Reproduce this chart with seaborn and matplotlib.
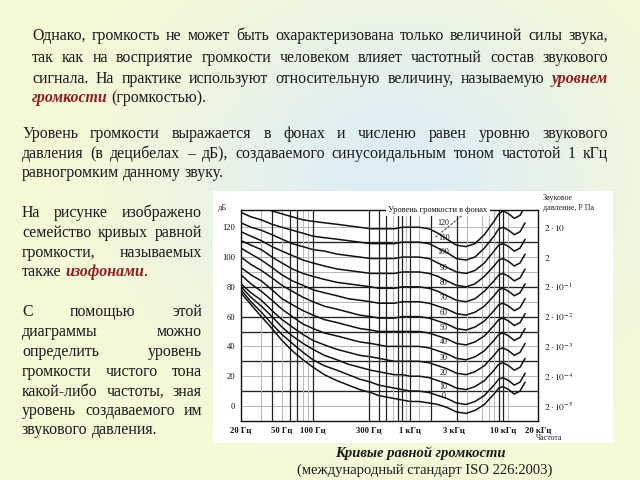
import numpy as np
import pandas as pd
import matplotlib
matplotlib.use("Agg")
import matplotlib.pyplot as plt
import seaborn as sns
from matplotlib.patches import Rectangle
from matplotlib.ticker import NullLocator

sns.set_theme(style="white")
plt.rcParams["font.family"] = ["Liberation Serif", "DejaVu Serif"]
plt.rcParams["mathtext.fontset"] = "stix"

# ---------------- data ----------------
FREQ = [20, 25, 31.5, 40, 50, 63, 80, 100, 125, 160, 200, 250, 315, 400, 500,
        630, 800, 1000, 1250, 1600, 2000, 2500, 3150, 4000, 5000, 6300, 8000,
        9000, 10000, 11200, 12500, 14000, 15500]
PHONS = [0, 10, 20, 30, 40, 50, 60, 70, 80, 90, 100, 110, 120]
SPL_P0 = [76, 68, 60, 52, 44, 37, 31, 26, 21, 17, 14, 11, 9, 7, 6, 5, 4, 3,
          3, 2, 1, -1, -4, -5, -3, 1, 8, 12, 13, 11, 8, 10, 16]
SPL_P10 = [78, 70, 63, 55, 48, 42, 36, 31, 27, 24, 21, 18, 16, 14, 13, 12, 11, 10,
           10, 9, 7, 5, 2, 1, 3, 7, 14, 18, 19, 17, 14, 16, 22]
SPL_P20 = [80, 73, 67, 60, 53, 47, 42, 38, 34, 31, 28, 26, 24, 23, 22, 21, 21, 20,
           20, 19, 17, 15, 12, 11, 13, 17, 24, 28, 29, 27, 24, 26, 32]
SPL_P30 = [82, 76, 71, 64, 58, 53, 48, 44, 41, 38, 36, 34, 33, 32, 31, 30, 30, 30,
           30, 29, 27, 25, 22, 21, 23, 27, 34, 38, 39, 37, 34, 36, 42]
SPL_P40 = [88, 82, 77, 71, 65, 60, 55, 52, 49, 47, 45, 43, 42, 41, 40, 40, 40, 40,
           40, 39, 37, 35, 32, 31, 33, 37, 44, 48, 49, 47, 44, 46, 52]
SPL_P50 = [93, 88, 84, 78, 72, 68, 64, 61, 58, 56, 54, 52, 51, 50, 50, 50, 50, 50,
           50, 49, 47, 45, 42, 41, 43, 47, 54, 58, 59, 57, 54, 56, 62]
SPL_P60 = [100, 95, 91, 86, 81, 77, 73, 70, 67, 65, 63, 61, 60, 59, 59, 59, 60, 60,
           60, 59, 57, 55, 52, 51, 53, 57, 64, 68, 69, 67, 64, 66, 72]
SPL_P70 = [106, 102, 98, 93, 88, 84, 81, 78, 76, 74, 72, 71, 70, 69, 69, 69, 70, 70,
           70, 69, 67, 65, 62, 61, 63, 67, 74, 78, 79, 77, 74, 76, 82]
SPL_P80 = [111, 108, 105, 100, 96, 92, 89, 87, 85, 83, 82, 81, 80, 79, 79, 79, 80, 80,
           80, 79, 77, 74, 71, 70, 72, 77, 84, 88, 89, 87, 84, 86, 92]
SPL_P90 = [117, 114, 111, 107, 104, 101, 98, 96, 94, 92, 91, 90, 89, 89, 89, 89, 90, 90,
           90, 89, 87, 84, 81, 80, 82, 87, 94, 98, 99, 97, 94, 96, 102]
SPL_P100 = [123, 120, 118, 115, 112, 109, 107, 105, 104, 102, 101, 100, 99, 99, 99, 99, 100, 100,
            100, 99, 96, 93, 90, 89, 91, 96, 104, 108, 109, 107, 104, 106, 112]
SPL_P110 = [130, 127, 125, 122, 120, 118, 116, 114, 113, 112, 111, 110, 109, 109, 109, 109, 110, 110,
            110, 109, 106, 103, 99, 98, 100, 106, 114, 119, 120, 118, 115, 117, 123]
SPL_P120 = [137, 135, 133, 131, 129, 127, 125, 124, 123, 122, 121, 120, 119, 119, 119, 119, 120, 120,
            120, 119, 116, 112, 108, 107, 109, 115, 124, 129, 131, 129, 126, 128, 134]
CURVES = [SPL_P0, SPL_P10, SPL_P20, SPL_P30, SPL_P40, SPL_P50, SPL_P60,
          SPL_P70, SPL_P80, SPL_P90, SPL_P100, SPL_P110, SPL_P120]

PHON_LABEL_FREQ = 2300
PHON_LABEL_SPL = [6.7, 12.8, 22.1, 32.2, 42.9, 52.3, 62.4, 72.5, 82.6, 92.6, 103.4, 113, 123]

X_TICKS = [20, 50, 100, 300, 1000, 3000, 10000, 20000]
X_TICK_LABELS = ["20 Гц", "50 Гц", "100 Гц", "300 Гц", "1 кГц", "3 кГц", "10 кГц", "20 кГц"]
Y_TICKS = [0, 20, 40, 60, 80, 100, 120]
P_LABELS = [r"$2\cdot10^{-5}$", r"$2\cdot10^{-4}$", r"$2\cdot10^{-3}$",
            r"$2\cdot10^{-2}$", r"$2\cdot10^{-1}$", r"$2$", r"$2\cdot10$"]

GRID_F_THIN = [31.5, 50, 80, 90, 600, 900, 1250, 4100, 6000, 7000, 8000, 11000]
GRID_F_THICK = [40, 60, 70, 100, 300, 400, 500, 700, 800, 1000, 1700, 3200,
                9000, 10000]
GRID_DB_THIN = [0, 20, 40, 70, 90, 100, 120]
GRID_DB_THICK = [10, 30, 50, 60, 80, 110]

# ---------------- figure ----------------
W, H = 640, 480
fig = plt.figure(figsize=(6.4, 4.8), dpi=100)

# background gradient
yy, xx = np.mgrid[0:1:480j, 0:1:640j]
yellow = np.array([246, 250, 214]) / 255
blue = np.array([221, 237, 246]) / 255
w = np.exp(-(((xx - 0.62) / 0.33) ** 2 + ((yy - 0.38) / 0.38) ** 2))
img = yellow[None, None, :] * (1 - w[..., None]) + blue[None, None, :] * w[..., None]
bg = fig.add_axes([0, 0, 1, 1], zorder=-10)
bg.imshow(img, aspect="auto", extent=[0, 1, 0, 1], origin="upper")
bg.axis("off")

def fx(px):
    return px / W

def fy(py):
    return 1 - py / H

# white chart card
fig.patches.append(Rectangle((fx(213), fy(443)), fx(613) - fx(213), fy(191) - fy(443),
                             transform=fig.transFigure, facecolor="white",
                             edgecolor="none", zorder=-5))

# piecewise log frequency scale (the drawing's axis is not uniform)
AF = np.log10([20, 100, 300, 1000, 10000, 20000])
AP = np.array([241, 313, 369, 410, 503, 538], dtype=float)
s0 = (AP[1] - AP[0]) / (AF[1] - AF[0])
s1 = (AP[-1] - AP[-2]) / (AF[-1] - AF[-2])
AFX = np.concatenate([[-6], AF, [10]])
APX = np.concatenate([[AP[0] - s0 * (AF[0] + 6)], AP, [AP[-1] + s1 * (10 - AF[-1])]])

def fwd(f):
    f = np.asarray(f, dtype=float)
    return np.interp(np.log10(np.clip(f, 1e-6, None)), AFX, APX)

def inv(p):
    p = np.asarray(p, dtype=float)
    return 10 ** np.interp(p, APX, AFX)

ax = fig.add_axes([fx(241), fy(421), fx(538) - fx(241), fy(210) - fy(421)], zorder=1)
ax.set_facecolor("none")
ax.set_xscale("function", functions=(fwd, inv))
ax.set_xlim(20, 20000)
ax.set_ylim(-10.1, 131.6)

for d in GRID_DB_THIN:
    ax.axhline(d, color="#b8b8b8", lw=0.7, zorder=1)
for d in GRID_DB_THICK:
    ax.axhline(d, color="#222222", lw=0.95, zorder=1)
for f in GRID_F_THIN:
    ax.axvline(f, color="#b8b8b8", lw=0.7, zorder=1)
for f in GRID_F_THICK:
    ax.axvline(f, color="#222222", lw=0.9, zorder=1)

rows = []
for p, vals in zip(PHONS, CURVES):
    for f, v in zip(FREQ, vals):
        rows.append({"freq": f, "spl": v, "phon": p})
df = pd.DataFrame(rows)
sns.lineplot(data=df, x="freq", y="spl", units="phon", estimator=None,
             color="#111111", lw=1.1, ax=ax, legend=False, zorder=3)

for p, s in zip(PHONS, PHON_LABEL_SPL):
    ax.text(PHON_LABEL_FREQ, s, str(p), fontsize=5.8, ha="center", va="center",
            color="#111111", zorder=4)

for sp in ax.spines.values():
    sp.set_visible(True)
    sp.set_color("#111111")
    sp.set_linewidth(1.0)

ax.set_xlabel("")
ax.set_ylabel("")
ax.set_xticks(X_TICKS)
ax.set_xticklabels(X_TICK_LABELS, fontsize=6.2, fontweight="bold")
ax.xaxis.set_minor_locator(NullLocator())
ax.set_yticks(Y_TICKS)
ax.set_yticklabels([str(v) for v in Y_TICKS], fontsize=6.2)
ax.tick_params(axis="both", length=0, pad=4, colors="#111111")

ax2 = ax.twinx()
ax2.set_ylim(ax.get_ylim())
ax2.set_yticks(Y_TICKS)
ax2.set_yticklabels(P_LABELS, fontsize=6.8)
ax2.tick_params(axis="y", length=0, pad=4, colors="#222222")
for sp in ax2.spines.values():
    sp.set_visible(False)
ax2.grid(False)

# title of the curves with dashed leader
ax.annotate("Уровень громкости в фонах", xy=(1860, 113), xytext=(2000, 131.6),
            fontsize=6.0, ha="center", va="center", color="#111111",
            bbox=dict(boxstyle="square,pad=0.25", fc="white", ec="none"),
            arrowprops=dict(arrowstyle="-", linestyle=(0, (2, 2)), lw=0.7,
                            color="#333333", shrinkA=0, shrinkB=0,
                            relpos=(0.78, 0.2)),
            zorder=6, annotation_clip=False)

fig.text(fx(223), fy(208), "дБ", fontsize=6.0, ha="center", va="center")
fig.text(fx(543), fy(203), "Звуковое\nдавление, Р Па", fontsize=5.8, ha="left",
         va="center", linespacing=1.3)
fig.text(fx(536), fy(438), "Частота", fontsize=5.8, ha="left", va="center")

# ---------------- slide text ----------------
RED = "#8f1d1d"
renderer = fig.canvas.get_renderer()
NORMAL = {}
EMPH = {"color": RED, "fontweight": "bold", "fontstyle": "italic"}

def draw_line(runs, x0, x1, y, size, justify=True):
    """runs: list of (text, style, glued_to_previous)."""
    texts, widths = [], []
    for txt, kw, glue in runs:
        t = fig.text(0, 0, txt, fontsize=size, ha="left", va="baseline",
                     color=kw.get("color", "#1a1a1a"),
                     fontweight=kw.get("fontweight", "normal"),
                     fontstyle=kw.get("fontstyle", "normal"))
        texts.append(t)
        widths.append(t.get_window_extent(renderer).width)
    gaps = sum(1 for r in runs[1:] if not r[2])
    if justify and gaps > 0:
        gap = ((x1 - x0) - sum(widths)) / gaps
    else:
        gap = size * 100 / 72 * 0.25
    x = x0
    for i, (t, wd) in enumerate(zip(texts, widths)):
        if i > 0 and not runs[i][2]:
            x += gap
        t.set_position((fx(x), fy(y)))
        x += wd

def words(s, kw=NORMAL):
    return [(w, kw, False) for w in s.split()]

SIZE = 11.4
# paragraph 1
draw_line(words("Однако, громкость не может быть охарактеризована только величиной силы звука,"), 32, 608, 40, SIZE)
draw_line(words("так как на восприятие громкости человеком влияет частотный состав звукового"), 32, 608, 62, SIZE)
draw_line(words("сигнала. На практике используют относительную величину, называемую") + words("уровнем", EMPH), 32, 608, 83, SIZE)
draw_line(words("громкости", EMPH) + words("(громкостью)."), 32, 608, 102, SIZE, justify=False)
# paragraph 2
draw_line(words("Уровень громкости выражается в фонах и численю равен уровню звукового"), 22, 608, 138, SIZE)
draw_line(words("давления (в децибелах – дБ), создаваемого синусоидальным тоном частотой 1 кГц"), 22, 608, 158, SIZE)
draw_line(words("равногромким данному звуку."), 22, 608, 177, SIZE, justify=False)
# left column
LEFT = [
    (words("На рисунке изображено"), 217, True),
    (words("семейство кривых равной"), 237, True),
    (words("громкости, называемых"), 257, True),
    (words("также") + words("изофонами", EMPH) + [(".", NORMAL, True)], 276, False),
    (words("С помощью этой"), 316, True),
    (words("диаграммы можно"), 336, True),
    (words("определить уровень"), 356, True),
    (words("громкости чистого тона"), 376, True),
    (words("какой-либо частоты, зная"), 396, True),
    (words("уровень создаваемого им"), 415, True),
    (words("звукового давления."), 434, False),
]
for runs, y, j in LEFT:
    draw_line(runs, 22, 202, y, SIZE, justify=j)

# caption
fig.text(fx(420), fy(453), "Кривые равной громкости", fontsize=10.5, ha="center",
         va="center", fontweight="bold", fontstyle="italic", color="#1a1a1a")
fig.text(fx(425), fy(470), "(международный стандарт ISO 226:2003)", fontsize=10.5,
         ha="center", va="center", color="#1a1a1a")

fig.savefig("out.png", dpi=100)
